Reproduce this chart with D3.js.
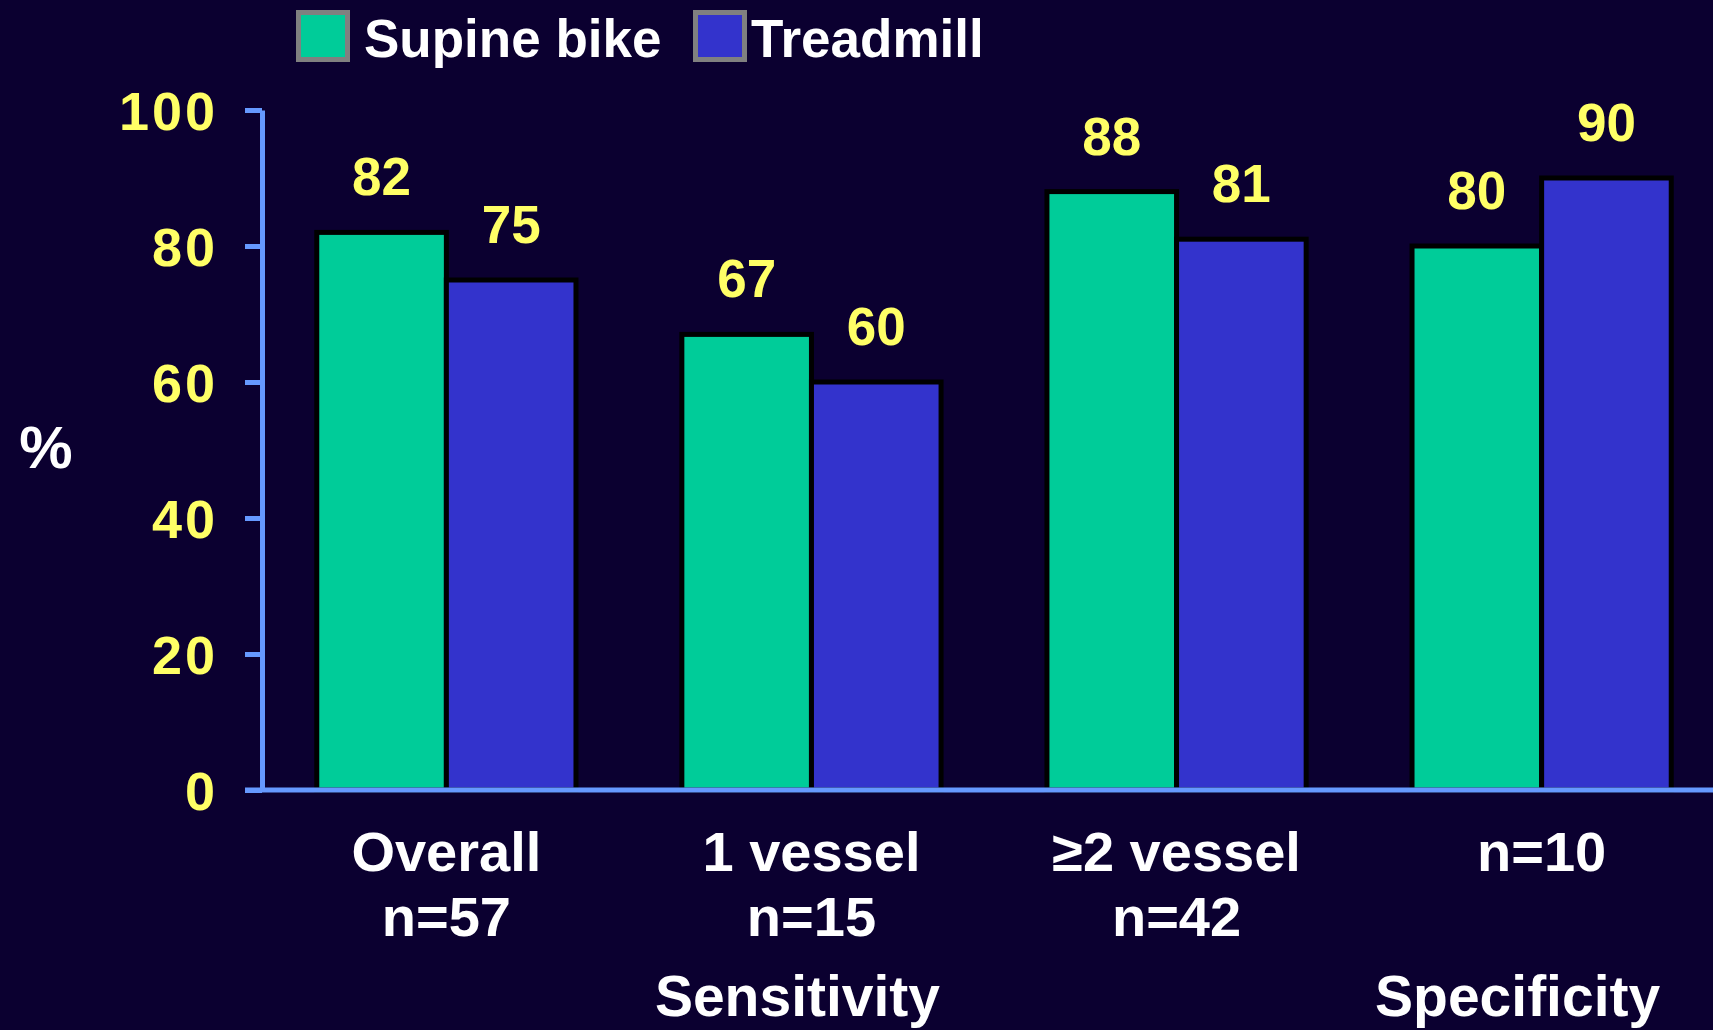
<!DOCTYPE html>
<html>
<head>
<meta charset="utf-8">
<script src="https://cdn.jsdelivr.net/npm/d3@7"></script>
<style>
  html, body { margin: 0; padding: 0; background: #0b0030; }
  svg { display: block; }
  text { font-family: "Liberation Sans", Arial, sans-serif; font-weight: bold; }
</style>
</head>
<body>
<div id="chart"></div>
<script>
// Data
const categories = ["Overall", "1 vessel", "\u22652 vessel", "Specificity n"];
const catLine1 = ["Overall", "1 vessel", "\u22652 vessel", "n=10"];
const catLine2 = ["n=57", "n=15", "n=42", ""];
const seriesNames = ["Supine bike", "Treadmill"];
const supineBike = [82, 67, 88, 80];
const treadmill = [75, 60, 81, 90];
const yTicks = [0, 20, 40, 60, 80, 100];
const groupLabels = ["Sensitivity", "Specificity"];

const colors = ["#00cc99", "#3333cc"];

const W = 1713, H = 1030;
const svg = d3.select("#chart").append("svg")
    .attr("width", W)
    .attr("height", H);

svg.append("rect").attr("width", W).attr("height", H).attr("fill", "#0b0030");

// Scales
const x = d3.scaleBand()
    .domain(categories)
    .range([262, 1726])
    .paddingInner(0.29)
    .paddingOuter(0.15);

const xs = d3.scaleBand()
    .domain(seriesNames)
    .range([0, x.bandwidth()]);

const y = d3.scaleLinear()
    .domain([0, 100])
    .range([790, 110]);

const rows = categories.map((c, i) => ({ cat: c, values: [supineBike[i], treadmill[i]] }));

// Bars
const groups = svg.append("g").selectAll("g")
    .data(rows)
    .enter().append("g")
    .attr("transform", d => `translate(${x(d.cat)},0)`);

groups.selectAll("rect")
    .data(d => d.values.map((v, j) => ({ name: seriesNames[j], v: v, j: j })))
    .enter().append("rect")
    .attr("x", d => xs(d.name))
    .attr("y", d => y(d.v))
    .attr("width", xs.bandwidth())
    .attr("height", d => y(0) - y(d.v))
    .attr("fill", d => colors[d.j])
    .attr("stroke", "#000")
    .attr("stroke-width", 5);

// Value labels
groups.selectAll("text.val")
    .data(d => d.values.map((v, j) => ({ name: seriesNames[j], v: v })))
    .enter().append("text")
    .attr("class", "val")
    .attr("x", d => xs(d.name) + xs.bandwidth() / 2)
    .attr("y", d => y(d.v) - 37)
    .attr("text-anchor", "middle")
    .attr("fill", "#ffff66")
    .style("font-size", "53px")
    .text(d => d.v);

// Y axis
const yAxis = svg.append("g")
    .attr("transform", "translate(262,0)")
    .call(d3.axisLeft(y).tickValues(yTicks).tickSize(17).tickPadding(27).tickSizeOuter(0));

yAxis.select(".domain").attr("stroke", "#6699ff").attr("stroke-width", 5);
yAxis.selectAll(".tick line").attr("stroke", "#6699ff").attr("stroke-width", 5);
yAxis.selectAll(".tick text")
    .attr("fill", "#ffff66")
    .style("font-family", "'Liberation Sans', Arial, sans-serif")
    .style("font-weight", "bold")
    .style("font-size", "54px")
    .style("letter-spacing", "3px")
    .attr("dy", "0.36em");

// X axis line
svg.append("line")
    .attr("x1", 245).attr("x2", W)
    .attr("y1", y(0)).attr("y2", y(0))
    .attr("stroke", "#6699ff")
    .attr("stroke-width", 5);

// Y axis title
svg.append("text")
    .attr("x", 46).attr("y", 468)
    .attr("text-anchor", "middle")
    .attr("fill", "#fff")
    .style("font-size", "60px")
    .text("%");

// Category labels
const catText = svg.append("g").selectAll("text")
    .data(categories)
    .enter().append("text")
    .attr("text-anchor", "middle")
    .attr("fill", "#fff")
    .style("font-size", "56px");

catText.append("tspan")
    .attr("x", d => x(d) + x.bandwidth() / 2)
    .attr("y", 871)
    .text((d, i) => catLine1[i]);

catText.append("tspan")
    .attr("x", d => x(d) + x.bandwidth() / 2)
    .attr("y", 936)
    .text((d, i) => catLine2[i]);

// Group labels
const groupX = [x(categories[1]) + x.bandwidth() / 2 - 14, x(categories[3]) + x.bandwidth() / 2 - 24];
svg.append("g").selectAll("text")
    .data(groupLabels)
    .enter().append("text")
    .attr("x", (d, i) => groupX[i])
    .attr("y", 1016)
    .attr("text-anchor", "middle")
    .attr("fill", "#fff")
    .style("font-size", "57px")
    .text(d => d);

// Legend
const legendX = [296, 693];
const legend = svg.append("g").selectAll("g")
    .data(seriesNames)
    .enter().append("g")
    .attr("transform", (d, i) => `translate(${legendX[i]},10)`);

legend.append("rect")
    .attr("x", 2.5).attr("y", 2.5)
    .attr("width", 49).attr("height", 47)
    .attr("fill", (d, i) => colors[i])
    .attr("stroke", "#808080")
    .attr("stroke-width", 5);

legend.append("text")
    .attr("x", (d, i) => i === 0 ? 68 : 58)
    .attr("y", 47)
    .attr("fill", "#fff")
    .style("font-size", "53px")
    .text(d => d);
</script>
</body>
</html>
